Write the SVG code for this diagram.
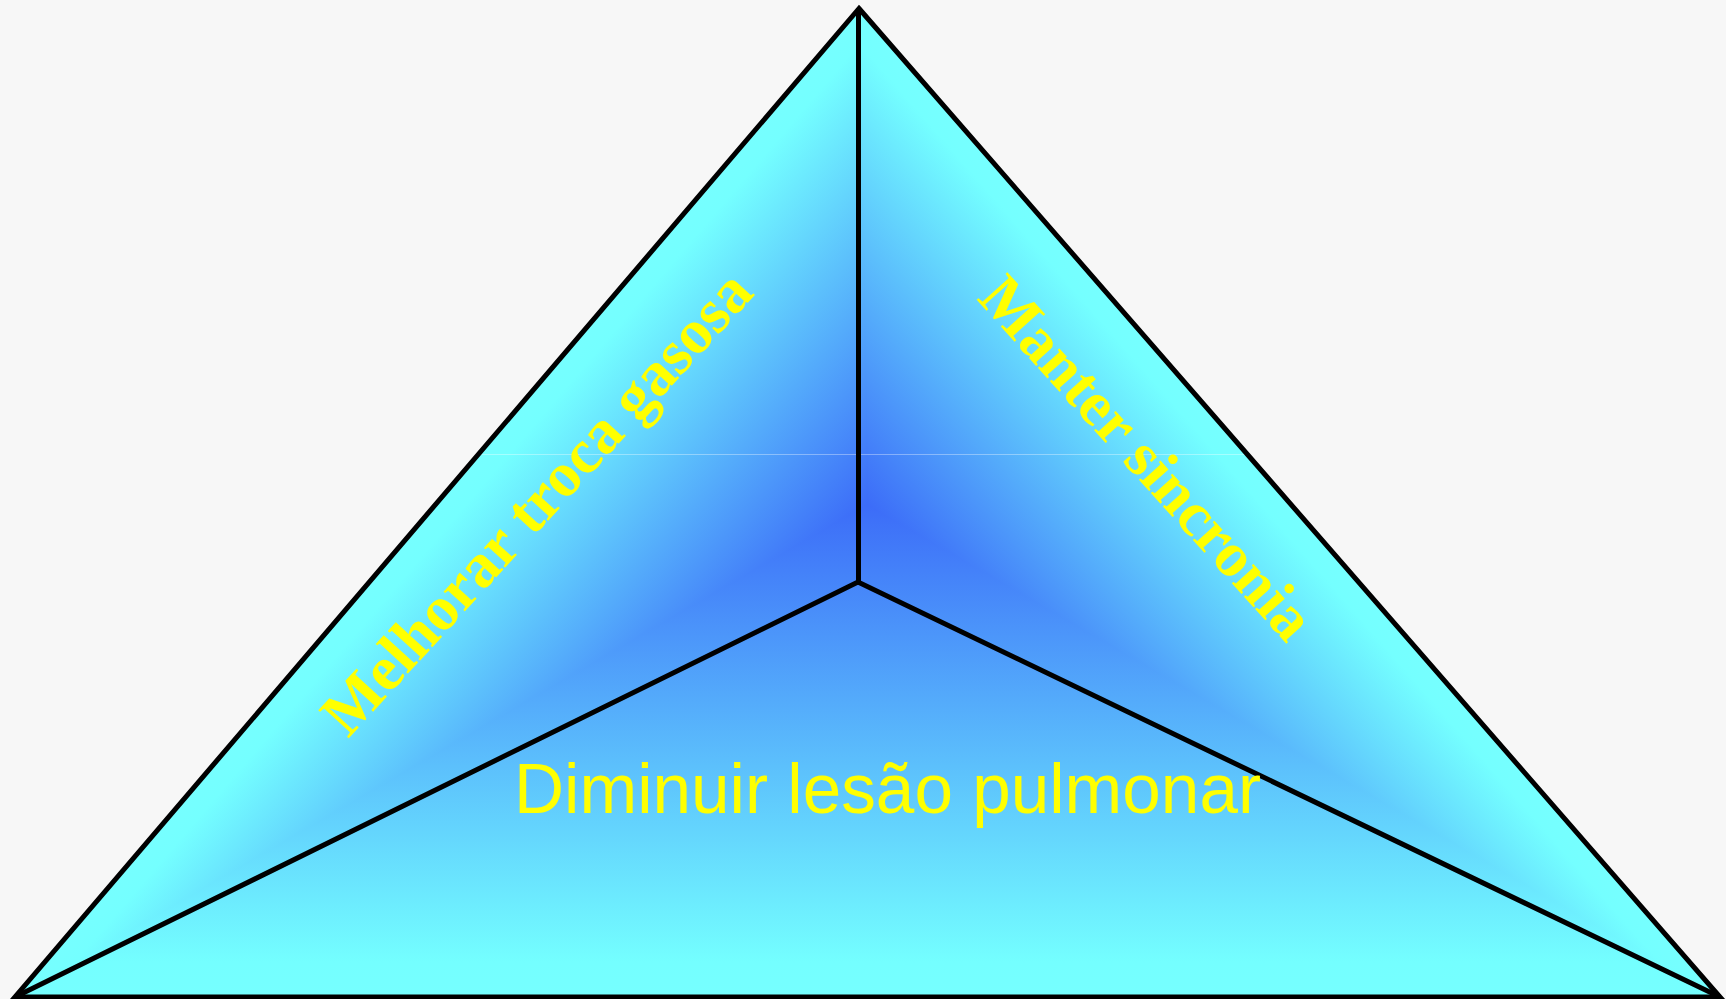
<svg xmlns="http://www.w3.org/2000/svg" width="1726" height="999" viewBox="0 0 1726 999">
  <style>
    .edge { fill: none; stroke: #000000; stroke-width: 5; stroke-linejoin: miter; }
    .serif { font-family: "Liberation Serif", "Times New Roman", serif; font-weight: bold; font-size: 63px; fill: #FFFF00; }
    .sans { font-family: "Liberation Sans", Arial, sans-serif; font-size: 71px; fill: #FFFF00; }
  </style>
  <defs>
    <linearGradient id="gL" gradientUnits="userSpaceOnUse" x1="867" y1="505" x2="617.4" y2="291.8">
      <stop offset="0" stop-color="#3C6CF8"/>
      <stop offset="0.93" stop-color="#74FFFF"/>
      <stop offset="1" stop-color="#76FFFF"/>
    </linearGradient>
    <linearGradient id="gB" gradientUnits="userSpaceOnUse" x1="867" y1="505" x2="867" y2="997">
      <stop offset="0" stop-color="#3C6CF8"/>
      <stop offset="0.93" stop-color="#74FFFF"/>
      <stop offset="1" stop-color="#76FFFF"/>
    </linearGradient>
    <linearGradient id="gR" gradientUnits="userSpaceOnUse" x1="867" y1="505" x2="1108.1" y2="294.9">
      <stop offset="0" stop-color="#3C6CF8"/>
      <stop offset="0.93" stop-color="#74FFFF"/>
      <stop offset="1" stop-color="#76FFFF"/>
    </linearGradient>
    <clipPath id="tri">
      <polygon points="859,8.5 1720,997 15,997"/>
    </clipPath>
  </defs>

  <rect id="background" x="0" y="0" width="1726" height="999" fill="#F7F7F7"/>

  <g id="fill" clip-path="url(#tri)">
    <polygon id="sector-right" points="867,505 1720,997 859,8.5" fill="url(#gR)" stroke="url(#gR)" stroke-width="3" stroke-linejoin="round"/>
    <polygon id="sector-left" points="867,505 859,8.5 15,997" fill="url(#gL)" stroke="url(#gL)" stroke-width="3" stroke-linejoin="round"/>
    <polygon id="sector-bottom" points="867,505 15,997 1720,997" fill="url(#gB)"/>
    <line x1="470" y1="454.5" x2="1260" y2="454.5" stroke="#FFFFFF" stroke-opacity="0.35" stroke-width="1"/>
  </g>

  <g id="connectors">
    <polygon class="edge" points="859,8.5 1720,997 15,997"/>
    <line class="edge" x1="858.5" y1="8.5" x2="858.5" y2="582"/>
    <polyline class="edge" points="15,997 858,582 1720,997"/>
  </g>

  <g id="label-left">
    <text class="serif" transform="translate(348,739) rotate(-47.5)" x="0" y="0">Melhorar troca gasosa</text>
  </g>
  <g id="label-right">
    <text class="serif" transform="translate(976,299) rotate(48)" x="0" y="0">Manter sincronia</text>
  </g>
  <g id="label-bottom">
    <text class="sans" x="514" y="812.5" textLength="747" lengthAdjust="spacingAndGlyphs">Diminuir lesão pulmonar</text>
  </g>
</svg>
